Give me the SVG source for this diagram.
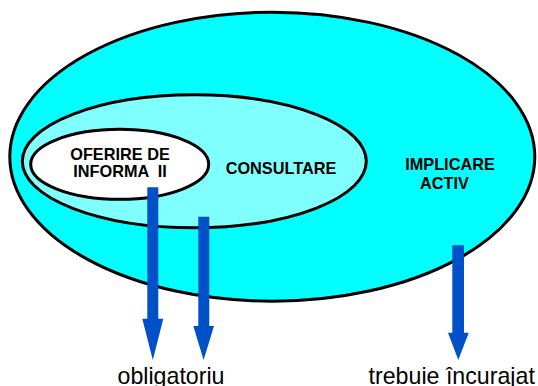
<svg xmlns="http://www.w3.org/2000/svg" width="538" height="386" viewBox="0 0 538 386">
<style>
.e{stroke:#000;stroke-width:3}
.b{font-family:"Liberation Sans",Arial,sans-serif;font-weight:bold;font-size:16.3px;fill:#000;text-anchor:middle}
.n{font-family:"Liberation Sans",Arial,sans-serif;font-size:23.2px;fill:#000;text-anchor:middle}
.a{fill:#0050C8}
</style>
<rect width="538" height="386" fill="#fff"/>
<g id="implicare">
<ellipse class="e" cx="272.3" cy="156.7" rx="262.5" ry="144.5" fill="#00FFFF"/>
<text class="b" x="450" y="169.5">IMPLICARE</text>
<text class="b" x="444.5" y="188.5">ACTIV</text>
</g>
<g id="consultare">
<ellipse class="e" cx="194.3" cy="161.3" rx="172" ry="66.5" fill="#80FFFF"/>
<text class="b" x="281" y="173.5">CONSULTARE</text>
</g>
<g id="oferire">
<ellipse class="e" cx="119.7" cy="164.3" rx="89" ry="35" fill="#fff"/>
<text class="b" x="120" y="159.5">OFERIRE DE</text>
<text class="b" x="120" y="177" xml:space="preserve">INFORMA  II</text>
</g>
<g id="connectors">
<path class="a" d="M147.3 187.3H158.3V318.7H163.3L152.8 360L142.3 318.7H147.3Z"/>
<path class="a" d="M198.3 216.7H209.3V326H214L203.6 360L193.3 326H198.3Z"/>
<path class="a" d="M452.3 245.3H464V332.7H468.7L458.3 360L448 332.7H452.3Z"/>
</g>
<g id="labels">
<text class="n" x="171" y="384">obligatoriu</text>
<text class="n" x="451.7" y="384">trebuie încurajat</text>
</g>
</svg>
